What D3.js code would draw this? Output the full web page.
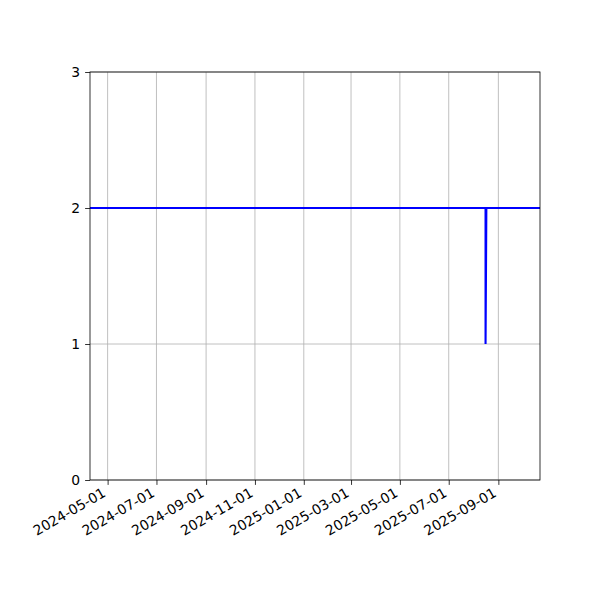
<!DOCTYPE html>
<html>
<head>
<meta charset="utf-8">
<script src="https://cdn.jsdelivr.net/npm/d3@7"></script>
<style>
  body { margin: 0; background: #fff; }
  text { font-family: "DejaVu Sans", sans-serif; font-size: 13.9px; fill: #000; }
</style>
</head>
<body>
<svg width="600" height="600"></svg>
<script>
// series: step from 2 down to 1 and back, mid Aug 2025
var dates  = ["2024-04-09", "2025-08-16", "2025-08-16", "2025-08-17", "2025-10-23"];
var values = [2, 2, 1, 2, 2];
var xTicks = ["2024-05-01", "2024-07-01", "2024-09-01", "2024-11-01", "2025-01-01",
              "2025-03-01", "2025-05-01", "2025-07-01", "2025-09-01"];
var yTicks = [0, 1, 2, 3];
var xDomain = ["2024-04-09", "2025-10-23"];

var parse = d3.utcParse("%Y-%m-%d");
var mLeft = 90, mRight = 540, mTop = 72, mBottom = 480;

var svg = d3.select("svg");

var x = d3.scaleUtc()
  .domain(xDomain.map(parse))
  .range([mLeft, mRight]);
var y = d3.scaleLinear()
  .domain([0, 3])
  .range([mBottom, mTop]);

// grid
var grid = svg.append("g").attr("class", "grid");
grid.selectAll(".vx")
  .data(xTicks)
  .enter().append("line")
  .attr("x1", function(d) { return x(parse(d)); })
  .attr("x2", function(d) { return x(parse(d)); })
  .attr("y1", mTop).attr("y2", mBottom)
  .attr("stroke", "#b0b0b0").attr("stroke-width", 0.8);
grid.selectAll(".hy")
  .data(yTicks)
  .enter().append("line")
  .attr("x1", mLeft).attr("x2", mRight)
  .attr("y1", function(d) { return y(d); })
  .attr("y2", function(d) { return y(d); })
  .attr("stroke", "#b0b0b0").attr("stroke-width", 0.8);

// data line
var pts = dates.map(function(d, i) { return [parse(d), values[i]]; });
var line = d3.line()
  .x(function(d) { return x(d[0]); })
  .y(function(d) { return y(d[1]); });
svg.append("path")
  .datum(pts)
  .attr("d", line)
  .attr("fill", "none")
  .attr("stroke", "#0000ff")
  .attr("stroke-width", 2.1)
  .attr("stroke-linejoin", "miter");

// axes
var xAxis = d3.axisBottom(x)
  .tickValues(xTicks.map(parse))
  .tickSize(4.9).tickPadding(4.9)
  .tickFormat(d3.utcFormat("%Y-%m-%d"));
var gx = svg.append("g").attr("transform", "translate(0," + mBottom + ")").call(xAxis);
gx.select(".domain").remove();
gx.selectAll("line").attr("stroke", "#000").attr("stroke-width", 0.8);
gx.selectAll("text")
  .attr("y", 0)
  .attr("text-anchor", "end")
  .attr("transform", "translate(0,18) rotate(-30)")
  .attr("dy", "-0.2em");

var yAxis = d3.axisLeft(y)
  .tickValues(yTicks)
  .tickSize(4.9).tickPadding(4.9)
  .tickFormat(d3.format("d"));
var gy = svg.append("g").attr("transform", "translate(" + mLeft + ",0)").call(yAxis);
gy.select(".domain").remove();
gy.selectAll("line").attr("stroke", "#000").attr("stroke-width", 0.8);

svg.selectAll(".tick text").attr("font-size", null).attr("font-family", null);
svg.selectAll("g").attr("font-size", null).attr("font-family", null);

// frame
svg.append("rect")
  .attr("x", mLeft).attr("y", mTop)
  .attr("width", mRight - mLeft).attr("height", mBottom - mTop)
  .attr("fill", "none").attr("stroke", "#000").attr("stroke-width", 0.8);
</script>
</body>
</html>
